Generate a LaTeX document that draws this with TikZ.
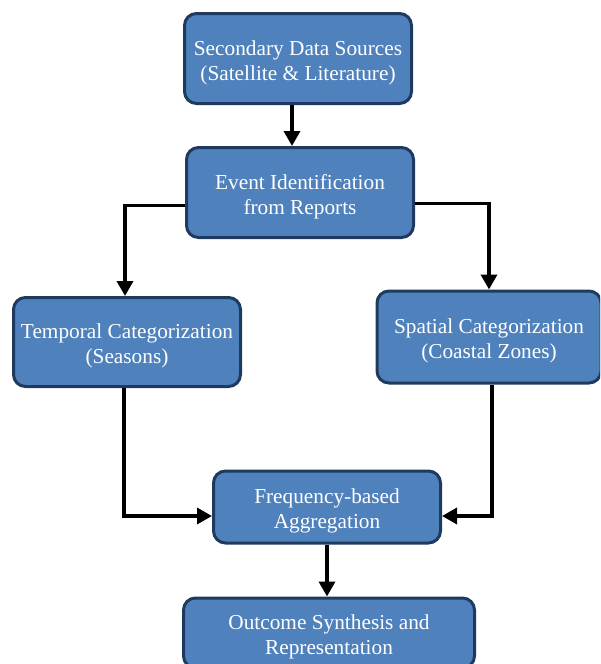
\documentclass[tikz,border=0pt]{standalone}
\usepackage{fontspec}
\setmainfont{Liberation Serif}
\usetikzlibrary{arrows.meta}
\definecolor{boxfill}{HTML}{4F81BD}
\definecolor{boxline}{HTML}{1F3A5F}
\newcommand\mytopstrut{\rule{0pt}{23pt}}
\tikzset{
  flowbox/.style={draw=boxline, line width=3pt, fill=boxfill, rounded corners=12pt,
    text=white, align=center, font=\fontsize{21.3}{25}\selectfont, inner sep=0pt},
  conn/.style={line width=3.5pt, -{Triangle[length=15pt,width=16pt]}}
}
\begin{document}
\begin{tikzpicture}[x=1pt,y=-1pt]
\useasboundingbox (0,0) rectangle (600,664);
\clip (0,0) rectangle (600,664);
\node[flowbox, minimum width=227pt, minimum height=90pt] (src) at (298,58.5) {\mytopstrut Secondary Data Sources\\(Satellite \& Literature)};
\node[flowbox, minimum width=227pt, minimum height=90pt] (ev) at (300,192.5) {\mytopstrut Event Identification\\from Reports};
\node[flowbox, minimum width=227pt, minimum height=89pt] (tmp) at (127,342) {\mytopstrut Temporal Categorization\\(Seasons)};
\node[flowbox, minimum width=224pt, minimum height=92pt] (sp) at (489,337) {\mytopstrut Spatial Categorization\\(Coastal Zones)};
\node[flowbox, minimum width=227pt, minimum height=72pt] (fr) at (327,507) {\mytopstrut Frequency-based\\Aggregation};
\node[flowbox, minimum width=291pt, minimum height=70pt] (out) at (329,633) {\mytopstrut Outcome Synthesis and\\Representation};
\draw[conn] ([xshift=-6pt]src.south) -- ([xshift=-8pt]ev.north);
\draw[conn] ([yshift=-13pt]ev.west) -| ([xshift=-2pt]tmp.north);
\draw[conn] ([yshift=-11pt]ev.east) -| (sp.north);
\draw[conn] ([xshift=-3pt]tmp.south) |- ([yshift=-9pt]fr.west);
\draw[conn] ([xshift=3pt]sp.south) |- ([yshift=-9pt]fr.east);
\draw[conn] (fr.south) -- (fr.south |- out.north);
\end{tikzpicture}
\end{document}
